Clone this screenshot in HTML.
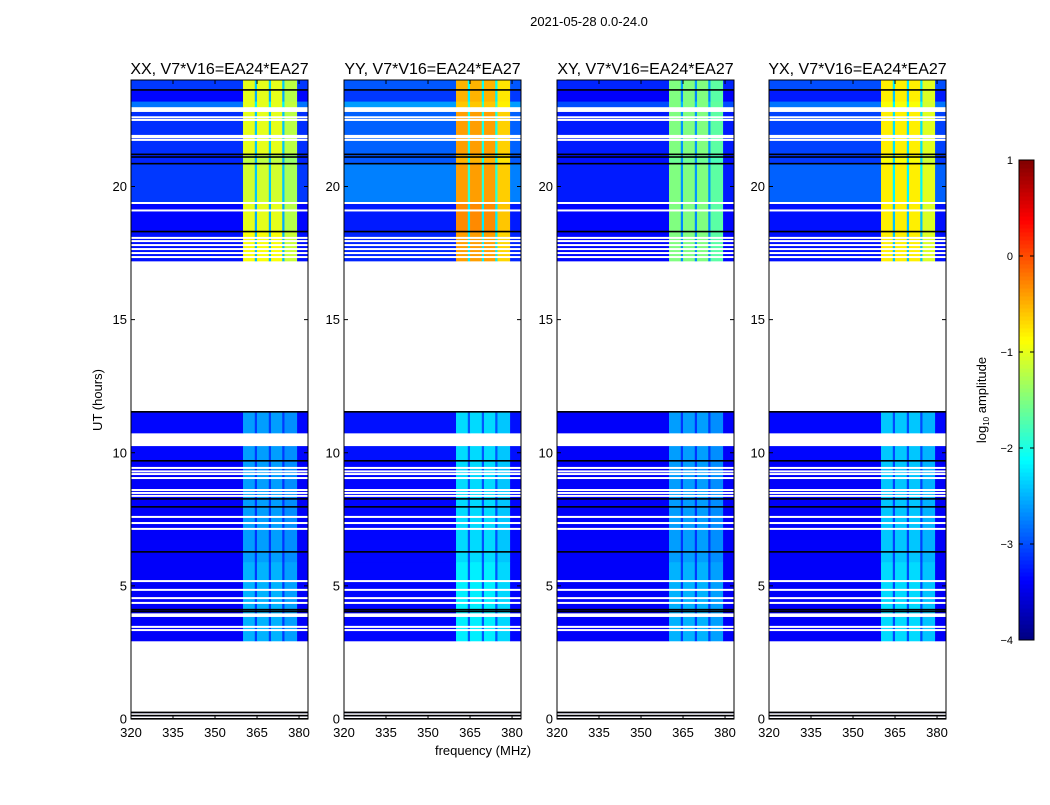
<!DOCTYPE html>
<html><head><meta charset="utf-8">
<style>
body{margin:0;background:#fff;}
svg text{font-family:"Liberation Sans",sans-serif;fill:#000;}
</style></head>
<body>
<svg id="fig" width="1050" height="800" viewBox="0 0 1050 800" xmlns="http://www.w3.org/2000/svg">
<text x="589" y="26" font-size="13" text-anchor="middle">2021-05-28 0.0-24.0</text>
<text x="483" y="755" font-size="13" text-anchor="middle">frequency (MHz)</text>
<text x="0" y="0" font-size="13" text-anchor="middle" transform="translate(102,400) rotate(-90)">UT (hours)</text>
<g id="panels"></g>
<g id="cbar"></g>
</svg>
<script>
// ---- data ----
const panelNames = ["XX, V7*V16=EA24*EA27","YY, V7*V16=EA24*EA27","XY, V7*V16=EA24*EA27","YX, V7*V16=EA24*EA27"];
// time segments [start hour, end hour]
const segStart = [0.0, 2.93, 5.9, 9.69, 10.74, 17.2, 18.3, 19.38, 20.85, 21.2, 22.99, 23.2, 23.62];
const segEnd   = [0.25, 5.9, 9.69, 10.25, 11.53, 18.3, 19.38, 20.85, 21.2, 22.8, 23.2, 23.62, 24.0];
// log10 background amplitude per segment, per panel
const bgXX = [-4.5, -3.4, -3.4, -3.35, -3.35, -3.3, -3.35, -3.1, -3.2, -3.15, -2.8, -3.35, -3.1];
const bgYY = [-4.5, -3.35, -3.35, -3.3, -3.3, -3.2, -3.25, -2.75, -2.95, -2.9, -2.6, -3.1, -2.95];
const bgXY = [-4.5, -3.4, -3.4, -3.4, -3.4, -3.35, -3.35, -3.25, -3.3, -3.25, -3.0, -3.4, -3.2];
const bgYX = [-4.5, -3.4, -3.4, -3.35, -3.35, -3.3, -3.3, -2.9, -3.1, -3.05, -2.8, -3.25, -3.0];
// log10 RFI band amplitude per segment, per panel
const rfXX = [-4.5, -2.5, -2.6, -2.6, -2.6, -0.9, -1.0, -1.1, -1.2, -1.0, -1.0, -1.0, -1.0];
const rfYY = [-4.5, -2.2, -2.3, -2.3, -2.3, -0.4, -0.3, -0.4, -0.5, -0.4, -0.6, -0.5, -0.5];
const rfXY = [-4.5, -2.5, -2.6, -2.6, -2.6, -1.5, -1.5, -1.5, -1.6, -1.5, -1.5, -1.5, -1.5];
const rfYX = [-4.5, -2.3, -2.4, -2.4, -2.4, -0.8, -0.8, -0.8, -0.9, -0.8, -0.9, -0.8, -0.8];
// frequency channels (MHz) and whether each is an RFI band
const bandStart = [320, 360, 364.2, 365, 369.2, 370, 374, 374.8, 379.3];
const bandEnd   = [360, 364.2, 365, 369.2, 370, 374, 374.8, 379.3, 383.2];
const bandRfi   = [0, 1, 0.35, 1, 0.35, 1, 0.35, 0.9, 0];
// flagged (white) gaps and black lines, hours
const whiteLines = [0.06, 0.18, 3.34, 3.46, 3.87, 3.93, 4.36, 4.54, 4.85, 5.18, 7.14, 7.36, 7.59, 8.38, 8.49, 8.6, 9.05, 9.2, 9.3, 9.43, 17.35, 17.5, 17.65, 17.8, 17.95, 18.07, 19.1, 19.38, 21.75, 21.85, 21.9, 22.5, 22.6];
const blackLines = [0.0, 0.12, 0.24, 4.03, 4.1, 6.27, 7.96, 8.26, 9.69, 11.53, 18.3, 20.85, 21.1, 21.2, 23.62];
const yTicks = [0, 5, 10, 15, 20];
const xTicks = [320, 335, 350, 365, 380];
const cbTicks = [-4, -3, -2, -1, 0, 1];

const bgs = [bgXX, bgYY, bgXY, bgYX];
const rfs = [rfXX, rfYY, rfXY, rfYX];
const panelX = [131, 344, 557, 769];
const PW = 177, PT = 80, PB = 719;
const NS = "http://www.w3.org/2000/svg";

function jet(v){ // v in [-4,1]
  let t = Math.max(0, Math.min(1, (v + 4) / 5));
  const f = (x)=>Math.max(0, Math.min(1, 1.5 - Math.abs(x)));
  const r = f(4*t - 3), g = f(4*t - 2), b = f(4*t - 1);
  return `rgb(${Math.round(r*255)},${Math.round(g*255)},${Math.round(b*255)})`;
}
function mk(tag, attrs, parent){
  const e = document.createElementNS(NS, tag);
  for (const k in attrs) e.setAttribute(k, attrs[k]);
  parent.appendChild(e); return e;
}
const yS = h => PB - h * (PB - PT) / 24;

const root = document.getElementById('panels');
panelNames.forEach((name, p) => {
  const x0 = panelX[p];
  const xS = f => x0 + (f - 320) * PW / 63.2;
  const g = mk('g', {}, root);
  
  
  mk('rect', {x:x0, y:PT, width:PW, height:PB-PT, fill:'#fff'}, g);
  segStart.forEach((s, i) => {
    bandStart.forEach((b, j) => {
      const v = bgs[p][i] + (rfs[p][i] - bgs[p][i]) * bandRfi[j];
      const c = mk('rect', {x:xS(b), y:yS(segEnd[i]), width:xS(bandEnd[j]) - xS(b) + 0.3, height:yS(s) - yS(segEnd[i]) + 0.3, fill:jet(v)}, g);
      
      
    });
  });
  whiteLines.forEach(h => {
    const l = mk('rect', {x:x0, y:yS(h)-1, width:PW, height:2, fill:'#fff'}, g);
    
    
  });
  blackLines.forEach(h => {
    const l = mk('rect', {x:x0, y:yS(h)-1, width:PW, height:1.6, fill:'#000'}, g);
    
    
  });
  const fr = mk('rect', {x:x0, y:PT, width:PW, height:PB-PT, fill:'none', stroke:'#000', 'stroke-width':1}, g);
  
  
  const t = mk('text', {x:x0 + PW/2, y:74, 'font-size':16, 'text-anchor':'middle'}, g);
  t.textContent = name;
  
  
  yTicks.forEach(h => {
    const y = yS(h);
    mk('line', {x1:x0, x2:x0+4, y1:y, y2:y, stroke:'#000'}, g);
    mk('line', {x1:x0+PW-4, x2:x0+PW, y1:y, y2:y, stroke:'#000'}, g);
    const tl = mk('text', {x:x0-4, y:y+4.5, 'font-size':13, 'text-anchor':'end'}, g);
    tl.textContent = h;
    
    
  });
  xTicks.forEach(f => {
    const x = xS(f);
    mk('line', {x1:x, x2:x, y1:PB, y2:PB-4, stroke:'#000'}, g);
    mk('line', {x1:x, x2:x, y1:PT, y2:PT+4, stroke:'#000'}, g);
    const tl = mk('text', {x:x, y:737, 'font-size':13, 'text-anchor':'middle'}, g);
    tl.textContent = f;
    
    
  });
});

// colorbar
const cb = document.getElementById('cbar');


const CX = 1019, CW = 15, CT = 160, CB = 640;
for (let i = 0; i < 120; i++) {
  const v = -4 + 5 * (i + 0.5) / 120;
  const y = CB - (i + 1) * (CB - CT) / 120;
  mk('rect', {x:CX, y:y, width:CW, height:(CB-CT)/120 + 0.5, fill:jet(v)}, cb);
}
mk('rect', {x:CX, y:CT, width:CW, height:CB-CT, fill:'none', stroke:'#000'}, cb);
cbTicks.forEach(v => {
  const y = CB - (v + 4) * (CB - CT) / 5;
  mk('line', {x1:CX, x2:CX+4, y1:y, y2:y, stroke:'#000'}, cb);
  mk('line', {x1:CX+CW-4, x2:CX+CW, y1:y, y2:y, stroke:'#000'}, cb);
  const tl = mk('text', {x:CX-6, y:y+4, 'font-size':11, 'text-anchor':'end'}, cb);
  tl.textContent = v < 0 ? '\u2212' + (-v) : v;
  
  
});
const cl = mk('text', {x:0, y:0, 'font-size':13, 'text-anchor':'middle', transform:'translate(986,400) rotate(-90)'}, cb);
cl.innerHTML = 'log<tspan font-size="8" dy="3">10</tspan><tspan dy="-3"> amplitude</tspan>';


</script>
</body></html>
